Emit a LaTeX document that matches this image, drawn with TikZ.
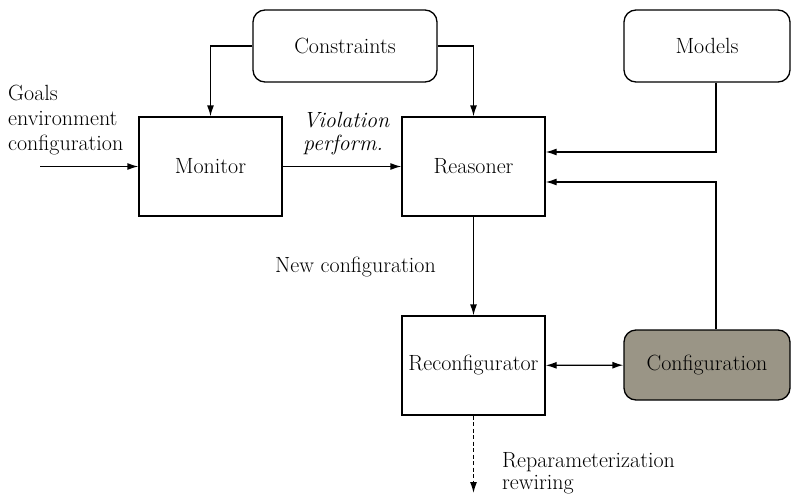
\documentclass[tikz,border=0pt]{standalone}
\usetikzlibrary{arrows.meta}
\definecolor{cfgfill}{HTML}{9A9586}
\begin{document}
\begin{tikzpicture}[x=1pt,y=-1pt,
  every node/.style={font=\fontsize{22}{25}\selectfont},
  box/.style={draw,line width=1.3pt,minimum width=143pt,minimum height=99pt,inner sep=0pt},
  rbox/.style={draw,line width=1.3pt,rounded corners=12pt,inner sep=0pt},
  lbl/.style={anchor=base west,inner sep=0pt},
  conn/.style={line width=1.3pt,-{Latex[length=11pt,width=7pt]}},
  dconn/.style={line width=1.3pt,{Latex[length=11pt,width=7pt]}-{Latex[length=11pt,width=7pt]}}]
\useasboundingbox (0,0) rectangle (800,495);
% boxes
\node[rbox,minimum width=184pt,minimum height=72pt] (con) at (345,46) {Constraints};
\node[rbox,minimum width=166pt,minimum height=72pt] (mod) at (707,46) {Models};
\node[box] (mon) at (210.5,166.5) {Monitor};
\node[box] (rea) at (473.5,166.5) {Reasoner};
\node[box] (rcf) at (473.5,365.5) {Reconfigurator};
\node[rbox,fill=cfgfill,minimum width=166pt,minimum height=70pt] (cfg) at (707,365) {Configuration};
% labels
\node[lbl] (g1) at (8,100) {Goals};
\node[lbl] (g2) at (8,125) {environment};
\node[lbl] (g3) at (8,150) {configuration};
\node[lbl] (v1) at (303,127) {\itshape Violation};
\node[lbl] (v2) at (303,150) {\itshape perform.};
\node[lbl] (nc) at (275,272) {New configuration};
\node[lbl] (r1) at (502,467) {Reparameterization};
\node[lbl] (r2) at (502,489) {rewiring};
% free ends
\coordinate (in) at (40,166.5);
\coordinate (out) at (473.5,493);
% connectors
\draw[conn] (con.west) -| (mon.north);
\draw[conn] (con.east) -| (rea.north);
\draw[conn] ([xshift=9pt]mod.south) |- ([yshift=14.5pt]rea.east);
\draw[conn] ([xshift=9pt]cfg.north) |- ([yshift=-15.5pt]rea.east);
\draw[conn] (in) -- (mon.west);
\draw[conn] (mon) -- (rea);
\draw[conn] (rea) -- (rcf);
\draw[dconn] (rcf) -- (cfg);
\draw[conn,dash pattern=on 4pt off 2.5pt] (rcf.south) -- (out);
\end{tikzpicture}
\end{document}
